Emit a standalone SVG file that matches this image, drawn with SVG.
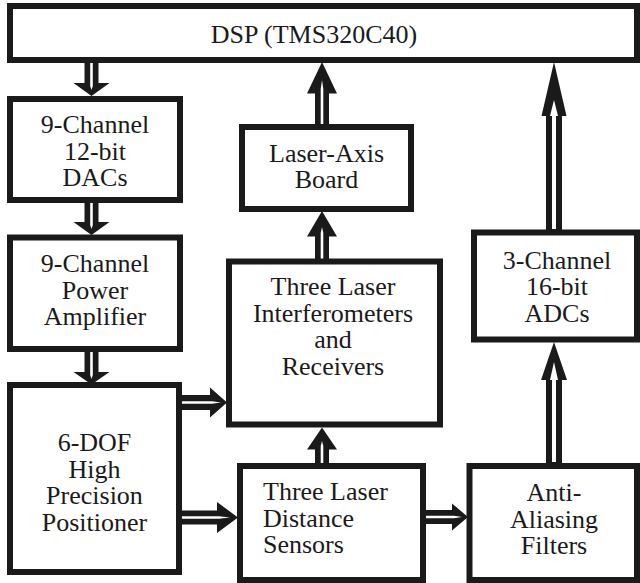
<svg xmlns="http://www.w3.org/2000/svg" width="640" height="583" viewBox="0 0 640 583">
<style>
.box{fill:#fff;stroke:#1a1a1a;stroke-width:6}
.ab{fill:#1a1a1a}
.aw{fill:#fff}
</style>
<rect width="640" height="583" fill="#fff"/>
<g font-family="'Liberation Serif', 'Times New Roman', serif" font-size="26" fill="#1a1a1a" text-anchor="middle">
<g id="dsp"><rect class="box" x="10" y="6" width="627" height="54"/><text x="314" y="43">DSP (TMS320C40)</text></g>
<g id="dacs"><rect class="box" x="10" y="99" width="170" height="101"/><text x="95" y="133">9-Channel</text><text x="95" y="159.5">12-bit</text><text x="95" y="186">DACs</text></g>
<g id="amp"><rect class="box" x="10" y="237.5" width="170" height="111.5"/><text x="95" y="272">9-Channel</text><text x="95" y="298.5">Power</text><text x="95" y="325">Amplifier</text></g>
<g id="positioner"><rect class="box" x="10" y="385" width="169" height="187"/><text x="94.5" y="451">6-DOF</text><text x="94.5" y="477.5">High</text><text x="94.5" y="504">Precision</text><text x="94.5" y="530.5">Positioner</text></g>
<g id="laseraxis"><rect class="box" x="242" y="127" width="169" height="82"/><text x="326.5" y="161.5">Laser-Axis</text><text x="326.5" y="188">Board</text></g>
<g id="interferometers"><rect class="box" x="229" y="261.5" width="211" height="163"/><text x="333" y="295">Three Laser</text><text x="333" y="321.5">Interferometers</text><text x="333" y="348">and</text><text x="333" y="374.5">Receivers</text></g>
<g id="sensors" text-anchor="start"><rect class="box" x="240" y="466" width="183" height="114"/><text x="263" y="500">Three Laser</text><text x="263" y="526.5">Distance</text><text x="263" y="553">Sensors</text></g>
<g id="adcs"><rect class="box" x="474" y="232.5" width="163" height="107"/><text x="557" y="268.5">3-Channel</text><text x="557" y="295">16-bit</text><text x="557" y="321.5">ADCs</text></g>
<g id="filters"><rect class="box" x="469.5" y="466" width="167.5" height="114"/><text x="554" y="501">Anti-</text><text x="554" y="527.5">Aliasing</text><text x="554" y="554">Filters</text></g>
</g>
<g id="connectors">
<polygon class="ab" points="84.5,62 98.5,62 98.5,83 109.5,83 91.5,96 73.5,83 84.5,83"/>
<polygon class="aw" points="90.2,63 92.8,63 92.8,86 91.5,90 90.2,86"/>
<polygon class="ab" points="84.5,202 98.5,202 98.5,222 109.5,222 91.5,235 73.5,222 84.5,222"/>
<polygon class="aw" points="90.2,203 92.8,203 92.8,225 91.5,229 90.2,225"/>
<polygon class="ab" points="84.5,351 98.5,351 98.5,372 109.5,372 91.5,384.5 73.5,372 84.5,372"/>
<polygon class="aw" points="90.2,352 92.8,352 92.8,375 91.5,379 90.2,375"/>
<polygon class="ab" points="181,395 210,395 210,387.5 227,402.5 210,417.5 210,410 181,410"/>
<polygon class="aw" points="182,401.2 212,401.2 221,402.5 212,403.8 182,403.8"/>
<polygon class="ab" points="181,510.5 217,510.5 217,502 238,517.5 217,533 217,524.5 181,524.5"/>
<polygon class="aw" points="182,516.2 219,516.2 230,517.5 219,518.8 182,518.8"/>
<polygon class="ab" points="425,510 452,510 452,503.5 468,517 452,530.5 452,524 425,524"/>
<polygon class="aw" points="426,515.7 454,515.7 462,517 454,518.3 426,518.3"/>
<polygon class="ab" points="315,464 329,464 329,449.5 337,449.5 322,427.5 307,449.5 315,449.5"/>
<polygon class="aw" points="320.7,463 323.3,463 323.3,446 322,441 320.7,446"/>
<polygon class="ab" points="315,259.5 329,259.5 329,236.5 337,236.5 322,211 307,236.5 315,236.5"/>
<polygon class="aw" points="320.7,258.5 323.3,258.5 323.3,233 322,227 320.7,233"/>
<polygon class="ab" points="315,125 329,125 329,93.5 337,93.5 322,62 307,93.5 315,93.5"/>
<polygon class="aw" points="320.7,124 323.3,124 323.3,89 322,80 320.7,89"/>
<polygon class="ab" points="546,464 562,464 562,380 567,380 554,342 541,380 546,380"/>
<polygon class="aw" points="552,462 556,462 556,380 558,380 554,362 550,380 552,380"/>
<polygon class="ab" points="546,230 562,230 562,116 566.5,116 554,62 541.5,116 546,116"/>
<polygon class="aw" points="552,229 556,229 556,116 558,116 554,100 550,116 552,116"/>
</g>
</svg>
